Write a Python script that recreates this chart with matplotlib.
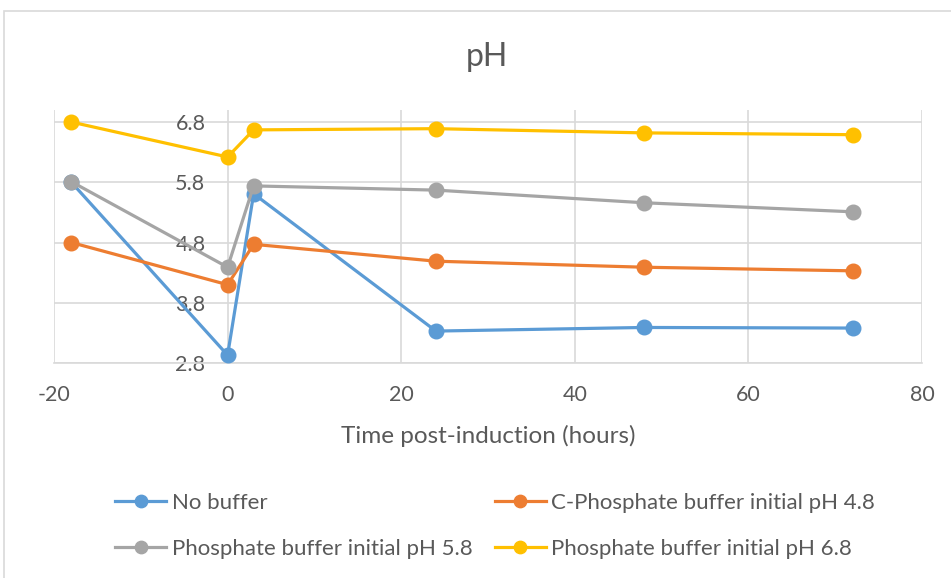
import matplotlib.pyplot as plt
from matplotlib.patches import Rectangle

plt.rcParams['font.family'] = ['Lato', 'DejaVu Sans']
plt.rcParams['axes.unicode_minus'] = False

# data
hours = [-18, 0, 3, 24, 48, 72]
no_buffer = [5.8, 2.93, 5.61, 3.33, 3.39, 3.38]
c_phosphate_48 = [4.8, 4.1, 4.77, 4.49, 4.39, 4.33]
phosphate_58 = [5.81, 4.39, 5.74, 5.67, 5.46, 5.31]
phosphate_68 = [6.8, 6.22, 6.67, 6.69, 6.62, 6.59]

labels = ['No buffer', 'C-Phosphate buffer initial pH 4.8',
          'Phosphate buffer initial pH 5.8', 'Phosphate buffer initial pH 6.8']
colors = ['#5B9BD5', '#ED7D31', '#A5A5A5', '#FFC000']
series = [no_buffer, c_phosphate_48, phosphate_58, phosphate_68]

x_ticks = [-20, 0, 20, 40, 60, 80]
y_ticks = [2.8, 3.8, 4.8, 5.8, 6.8]

W, H = 951, 578
fig = plt.figure(figsize=(W / 100, H / 100), dpi=100)
ax = fig.add_axes([54 / W, 1 - 363 / H, (922 - 54) / W, (363 - 110) / H])

txt = '#595959'
grid = '#D9D9D9'

# chart frame like excel
fig.patches.append(Rectangle((4 / W, -0.1), 1.2, 1 - 11 / H + 0.1, transform=fig.transFigure,
                             fill=False, edgecolor=grid, linewidth=1.2))

lines = []
for ys, c, lab in zip(series, colors, labels):
    ln, = ax.plot(hours, ys, color=c, linewidth=2.3, marker='o', markersize=10.5,
                  label=lab, zorder=3, clip_on=False)
    lines.append(ln)

ax.set_xlim(-20, 80)
ax.set_ylim(2.8, 7.0)
ax.set_xticks(x_ticks)
ax.set_yticks(y_ticks)
ax.set_yticklabels([f'{v:.1f}' for v in y_ticks])
ax.grid(True, color=grid, linewidth=1.2, zorder=0)
ax.set_axisbelow(True)

for s in ['top', 'right']:
    ax.spines[s].set_visible(False)
ax.spines['left'].set_position(('data', 0))
ax.spines['left'].set_visible(False)
ax.spines['bottom'].set_color(grid)
ax.spines['bottom'].set_linewidth(1.2)

ax.tick_params(axis='x', length=0, pad=16, labelsize=15.5, labelcolor=txt)
ax.tick_params(axis='y', length=0, pad=16, labelsize=15.5, labelcolor=txt)

ax.set_xlabel('Time post-induction (hours)', fontsize=17.5, color=txt, labelpad=14)
fig.text(487 / W, 1 - 57 / H, 'pH', ha='center', va='center', fontsize=23, color=txt)

# excel fills legend row by row, matplotlib column by column
order = [0, 2, 1, 3]
fig.legend([lines[i] for i in order], [labels[i] for i in order],
           loc='center left', bbox_to_anchor=(115 / W, 1 - 526 / H), ncol=2,
           frameon=False, fontsize=16, labelcolor=txt, handlelength=2.3,
           handletextpad=0.25, columnspacing=1.0, labelspacing=1.15,
           borderpad=0, borderaxespad=0, markerscale=0.85)

fig.savefig('out.png', dpi=100)
